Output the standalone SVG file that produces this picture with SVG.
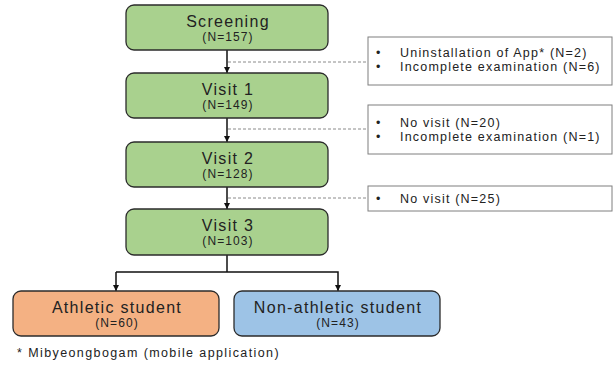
<svg xmlns="http://www.w3.org/2000/svg" width="613" height="366" viewBox="0 0 613 366">
<style>
.t{font-family:"Liberation Sans",Arial,sans-serif;fill:#222;}
.big{font-size:16px;text-anchor:middle;letter-spacing:1.3px;}
.sm{font-size:12px;text-anchor:middle;letter-spacing:1.1px;}
.side{font-size:12.5px;letter-spacing:1.2px;}
.g{fill:#A9D18E;stroke:#2b2b2b;stroke-width:1.3;}
.o{fill:#F4B183;stroke:#2b2b2b;stroke-width:1.3;}
.b{fill:#9DC3E6;stroke:#2b2b2b;stroke-width:1.3;}
.box{fill:#fff;stroke:#7f7f7f;stroke-width:1;}
.ln{stroke:#111;stroke-width:1.5;fill:none;}
.ds{stroke:#8a8a8a;stroke-width:1;stroke-dasharray:3,2;fill:none;}
</style>
<defs>
<marker id="ah" viewBox="0 0 10 10" refX="10" refY="5" markerWidth="6" markerHeight="6" orient="auto" markerUnits="userSpaceOnUse">
<path d="M0,0 L10,5 L0,10 z" fill="#111"/>
</marker>
</defs>
<g id="connectors">
<line class="ln" x1="227" y1="50" x2="227" y2="73" marker-end="url(#ah)"/>
<line class="ln" x1="227" y1="118" x2="227" y2="142" marker-end="url(#ah)"/>
<line class="ln" x1="227" y1="187" x2="227" y2="209" marker-end="url(#ah)"/>
<polyline class="ln" points="227,255 227,272"/>
<polyline class="ln" points="116,272 338,272 338,291" marker-end="url(#ah)"/>
<line class="ln" x1="116" y1="272" x2="116" y2="291" marker-end="url(#ah)"/>
<line class="ds" x1="228" y1="62" x2="368" y2="62"/>
<line class="ds" x1="228" y1="129" x2="368" y2="129"/>
<line class="ds" x1="228" y1="198" x2="368" y2="198"/>
</g>
<g id="screening">
<rect class="g" x="126" y="5" width="202" height="45" rx="8"/>
<text class="t big" x="228" y="27">Screening</text>
<text class="t sm" x="228" y="41">(N=157)</text>
</g>
<g id="visit1">
<rect class="g" x="126" y="73" width="202" height="45" rx="8"/>
<text class="t big" x="228" y="95">Visit 1</text>
<text class="t sm" x="228" y="109">(N=149)</text>
</g>
<g id="visit2">
<rect class="g" x="126" y="142" width="202" height="45" rx="8"/>
<text class="t big" x="228" y="164">Visit 2</text>
<text class="t sm" x="228" y="178">(N=128)</text>
</g>
<g id="visit3">
<rect class="g" x="126" y="209" width="202" height="46" rx="8"/>
<text class="t big" x="228" y="231">Visit 3</text>
<text class="t sm" x="228" y="245">(N=103)</text>
</g>
<g id="athletic">
<rect class="o" x="13" y="291" width="206" height="45" rx="8"/>
<text class="t big" x="117" y="313">Athletic student</text>
<text class="t sm" x="117" y="327">(N=60)</text>
</g>
<g id="nonathletic">
<rect class="b" x="234" y="291" width="206" height="45" rx="8"/>
<text class="t big" x="338" y="313">Non-athletic student</text>
<text class="t sm" x="338" y="327">(N=43)</text>
</g>
<g id="excl1">
<rect class="box" x="368" y="37" width="244" height="48"/>
<text class="t side" x="376" y="57">•</text>
<text class="t side" x="400" y="57">Uninstallation of App* (N=2)</text>
<text class="t side" x="376" y="71">•</text>
<text class="t side" x="400" y="71">Incomplete examination (N=6)</text>
</g>
<g id="excl2">
<rect class="box" x="368" y="105" width="244" height="49"/>
<text class="t side" x="376" y="127">•</text>
<text class="t side" x="400" y="127">No visit (N=20)</text>
<text class="t side" x="376" y="141">•</text>
<text class="t side" x="400" y="141">Incomplete examination (N=1)</text>
</g>
<g id="excl3">
<rect class="box" x="368" y="186" width="244" height="25"/>
<text class="t side" x="376" y="203">•</text>
<text class="t side" x="400" y="203">No visit (N=25)</text>
</g>
<text class="t" x="17" y="357" font-size="12.5" letter-spacing="1.4">* Mibyeongbogam (mobile application)</text>
</svg>
